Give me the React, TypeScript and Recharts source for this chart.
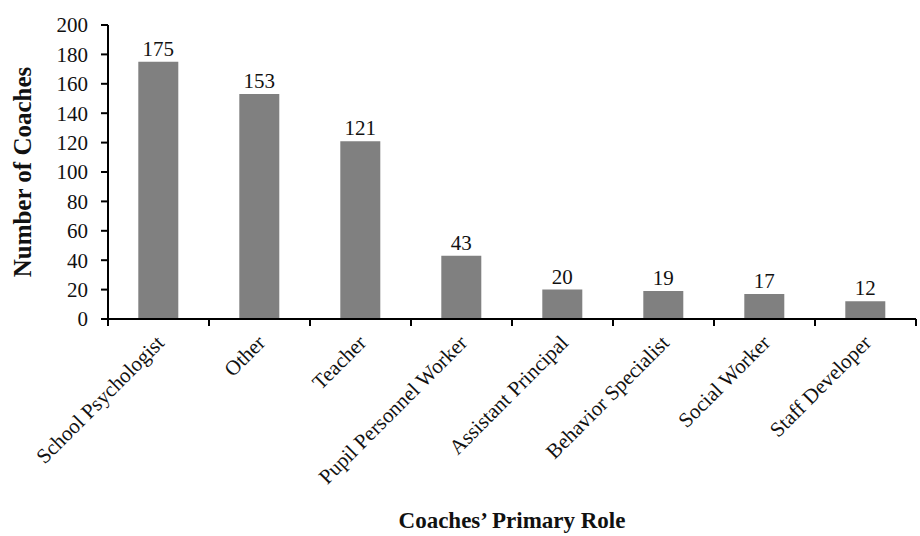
import React from "react";
import { BarChart, Bar, XAxis, YAxis, LabelList, Label } from "recharts";

const roles = [
  "School Psychologist",
  "Other",
  "Teacher",
  "Pupil Personnel Worker",
  "Assistant Principal",
  "Behavior Specialist",
  "Social Worker",
  "Staff Developer",
];
const coaches = [175, 153, 121, 43, 20, 19, 17, 12];
const yTicks = [0, 20, 40, 60, 80, 100, 120, 140, 160, 180, 200];

const data = roles.map((role, i) => ({ role, coaches: coaches[i] }));

const FONT = '"Liberation Serif", "Times New Roman", serif';

// label rotated -45deg plus a tick mark on the left edge of each band (Excel style)
const RoleTick = (props: any) => {
  const { x, y, payload, width, visibleTicksCount, index } = props;
  const bw = width / visibleTicksCount;
  const tx = x + 7;
  const ty = y + 25;
  const left = x - bw / 2;
  return (
    <g>
      <line x1={left} y1={y} x2={left} y2={y + 7} stroke="#000" strokeWidth={2} />
      {index === visibleTicksCount - 1 && (
        <line x1={left + bw} y1={y} x2={left + bw} y2={y + 7} stroke="#000" strokeWidth={2} />
      )}
      <text
        x={tx}
        y={ty}
        transform={`rotate(-45, ${tx}, ${ty})`}
        textAnchor="end"
        fontFamily={FONT}
        fontSize={21}
        fill="#111"
      >
        {payload.value}
      </text>
    </g>
  );
};

const YTitle = (props: any) => {
  const { viewBox } = props;
  const cx = 22;
  const cy = viewBox.y + viewBox.height / 2;
  return (
    <text
      x={cx}
      y={cy}
      transform={`rotate(-90, ${cx}, ${cy})`}
      textAnchor="middle"
      dominantBaseline="central"
      fontFamily={FONT}
      fontWeight="bold"
      fontSize={25}
      fill="#111"
    >
      Number of Coaches
    </text>
  );
};

export default function App() {
  return (
    <div style={{ position: "absolute", left: 0, top: 0, background: "#fff" }}>
      <BarChart
        width={920}
        height={536}
        data={data}
        margin={{ top: 25, right: 4, bottom: 2, left: 0 }}
        barCategoryGap="30%"
      >
        <XAxis
          dataKey="role"
          interval={0}
          tick={<RoleTick />}
          tickSize={0}
          tickMargin={0}
          tickLine={false}
          axisLine={{ stroke: "#000", strokeWidth: 2 }}
          height={215}
        >
          <Label
            value="Coaches’ Primary Role"
            position="insideBottom"
            offset={6}
            fontFamily={FONT}
            fontWeight="bold"
            fontSize={23}
            fill="#111"
          />
        </XAxis>
        <YAxis
          width={108}
          domain={[0, 200]}
          ticks={yTicks}
          interval={0}
          tickSize={7}
          tickMargin={13}
          axisLine={{ stroke: "#000", strokeWidth: 2 }}
          tickLine={{ stroke: "#000", strokeWidth: 2 }}
          tick={{ fontFamily: FONT, fontSize: 21, fill: "#111" }}
        >
          <Label content={<YTitle />} />
        </YAxis>
        <Bar dataKey="coaches" fill="#808080" isAnimationActive={false}>
          <LabelList
            dataKey="coaches"
            position="top"
            offset={6}
            fontFamily={FONT}
            fontSize={21}
            fill="#111"
          />
        </Bar>
      </BarChart>
    </div>
  );
}
